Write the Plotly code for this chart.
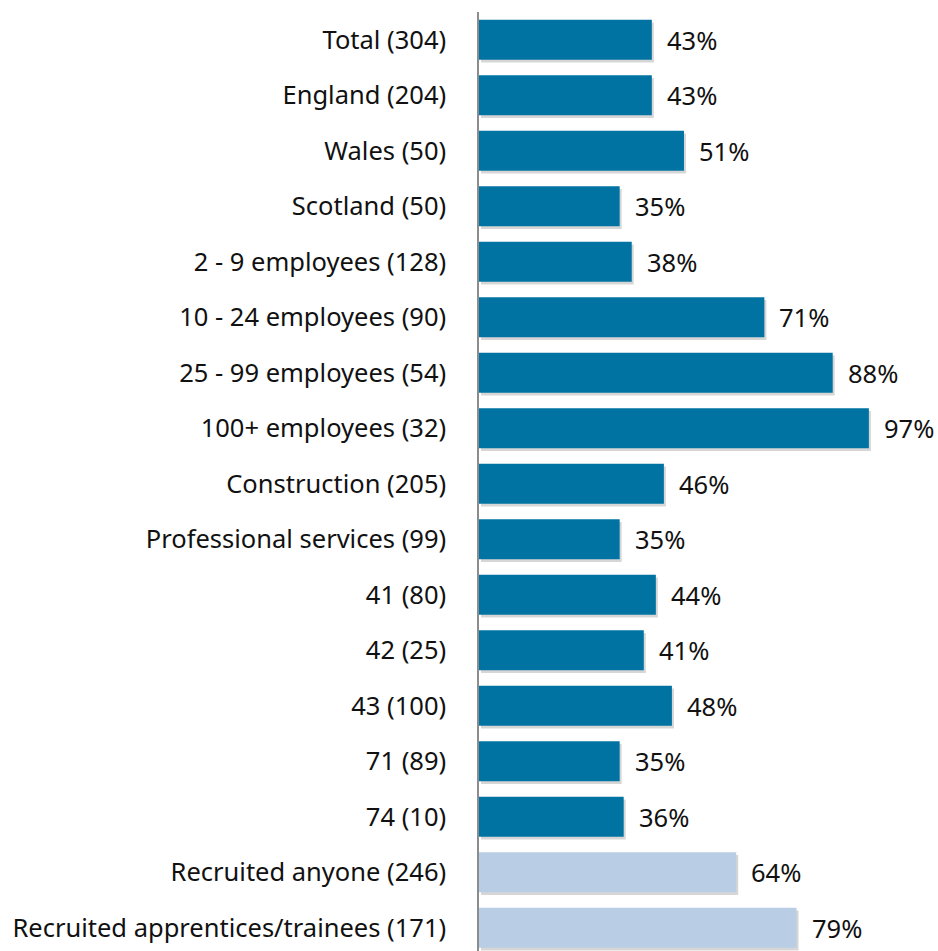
import plotly.graph_objects as go

categories = [
    "Total (304)", "England (204)", "Wales (50)", "Scotland (50)",
    "2 - 9 employees (128)", "10 - 24 employees (90)", "25 - 99 employees (54)",
    "100+ employees (32)", "Construction (205)", "Professional services (99)",
    "41 (80)", "42 (25)", "43 (100)", "71 (89)", "74 (10)",
    "Recruited anyone (246)", "Recruited apprentices/trainees (171)",
]
values = [43, 43, 51, 35, 38, 71, 88, 97, 46, 35, 44, 41, 48, 35, 36, 64, 79]
groups = ["main"] * 15 + ["recruit"] * 2

DARK = "#0073A2"
LIGHT = "#B9CDE5"
colors = [DARK if g == "main" else LIGHT for g in groups]
FONT = "Noto Sans"
FSIZE = 25.5
ypos = list(range(len(categories)))
BAR_W = 0.72

fig = go.Figure()
# soft drop shadow behind each bar
fig.add_trace(go.Bar(
    y=ypos, x=values, orientation="h",
    base=0.5, width=BAR_W, offset=-BAR_W / 2 + 0.05,
    marker=dict(color="rgba(0,0,0,0.16)", line=dict(width=0)),
    hoverinfo="skip",
))
fig.add_trace(go.Bar(
    y=ypos, x=values, orientation="h",
    width=BAR_W, offset=-BAR_W / 2,
    marker=dict(color=colors, line=dict(width=0)),
    hoverinfo="skip",
))

for i, v in enumerate(values):
    fig.add_annotation(
        x=v, y=i, text=f"{v}%", showarrow=False,
        xanchor="left", yanchor="middle", xshift=13,
        font=dict(family=FONT, size=FSIZE, color="#111111"),
    )

fig.update_layout(
    width=938, height=951,
    margin=dict(l=479, r=0, t=12, b=0),
    paper_bgcolor="white", plot_bgcolor="white",
    showlegend=False,
    barmode="overlay",
    font=dict(family=FONT, size=FSIZE, color="#111111"),
)
fig.update_xaxes(range=[0, 114.2], visible=False, showgrid=False, zeroline=False)
fig.update_yaxes(
    range=[16.42, -0.5],
    tickmode="array",
    tickvals=ypos,
    ticktext=categories,
    showgrid=False, zeroline=False,
    showline=True, linecolor="#8C8C8C", linewidth=1.5,
    ticks="", ticklabelstandoff=26,
    tickfont=dict(family=FONT, size=FSIZE, color="#111111"),
)

fig.write_html("out.html")
